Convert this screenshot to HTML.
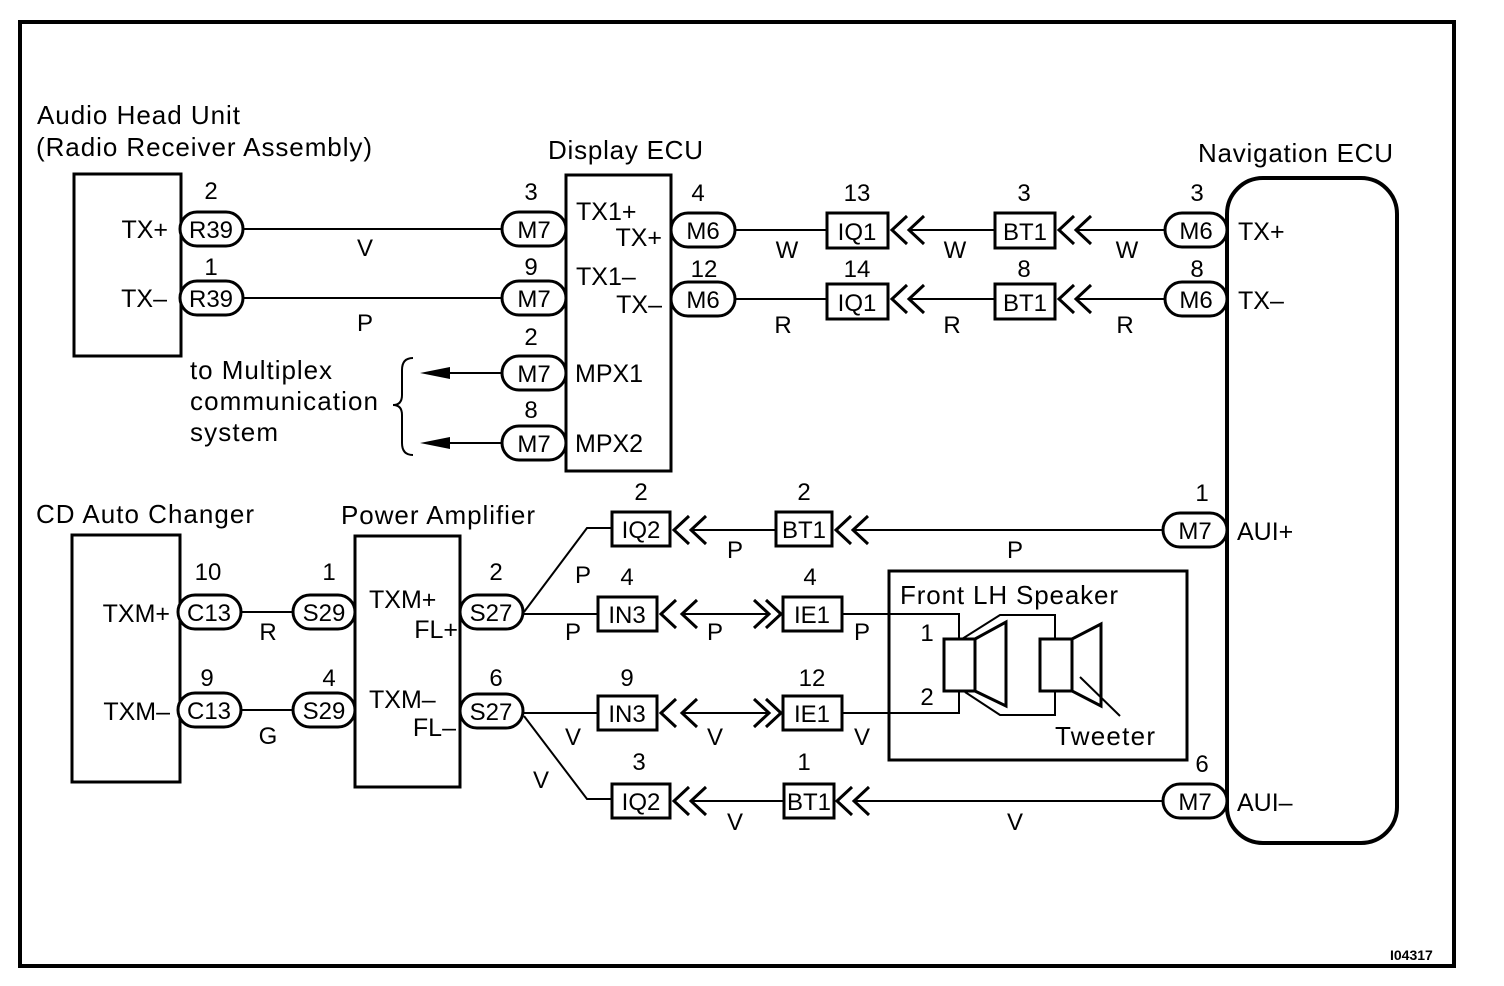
<!DOCTYPE html>
<html><head><meta charset="utf-8"><style>
html,body{margin:0;padding:0;background:#fff;}
svg{display:block;}
text{font-family:"Liberation Sans",Arial,sans-serif;fill:#000;}
</style></head><body>
<svg width="1504" height="986" viewBox="0 0 1504 986" xmlns="http://www.w3.org/2000/svg">
<g fill="none" stroke="#000">
<rect x="20" y="22" width="1434" height="944" stroke-width="4"/>
<rect x="74" y="174" width="107" height="182" stroke-width="3"/>
<rect x="566" y="175" width="105" height="296" stroke-width="3"/>
<rect x="1227" y="178" width="170" height="665" rx="36" stroke-width="4"/>
<rect x="72" y="535" width="108" height="247" stroke-width="3"/>
<rect x="355" y="536" width="105" height="251" stroke-width="3"/>
<rect x="889" y="571" width="298" height="189" stroke-width="3"/>

<g stroke-width="2">
<line x1="243" y1="229" x2="502" y2="229"/>
<line x1="243" y1="298" x2="502" y2="298"/>
<line x1="735" y1="230" x2="827" y2="230"/>
<line x1="735" y1="299" x2="827" y2="299"/>
<line x1="910" y1="230" x2="995" y2="230"/>
<line x1="910" y1="299" x2="995" y2="299"/>
<line x1="1077" y1="230" x2="1165" y2="230"/>
<line x1="1077" y1="299" x2="1165" y2="299"/>
<line x1="450" y1="373" x2="502" y2="373"/>
<line x1="450" y1="443" x2="502" y2="443"/>
<line x1="854" y1="530" x2="1163" y2="530"/>
<line x1="692" y1="530" x2="776" y2="530"/>
<line x1="854" y1="801" x2="1163" y2="801"/>
<line x1="692" y1="801" x2="784" y2="801"/>
<line x1="241" y1="612" x2="293" y2="612"/>
<line x1="241" y1="710" x2="293" y2="710"/>
<polyline points="524,612 587,528 612,528"/>
<polyline points="524,716 587,799 612,799"/>
<line x1="523" y1="614" x2="598" y2="614"/>
<line x1="523" y1="713" x2="598" y2="713"/>
<line x1="682" y1="614" x2="768" y2="614"/>
<line x1="682" y1="713" x2="768" y2="713"/>
<polyline points="842,614 959,614 959,639"/>
<polyline points="842,713 959,713 959,691"/>
</g>
<path d="M413,358 Q402,358 402,370 L402,395 Q402,405 393,405 Q402,405 402,415 L402,443 Q402,455 413,455" stroke-width="2"/>

<g stroke-width="3">
<polyline points="907,216 892,230 907,244"/><polyline points="924,216 909,230 924,244"/>
<polyline points="907,285 892,299 907,313"/><polyline points="924,285 909,299 924,313"/>
<polyline points="1074,216 1059,230 1074,244"/><polyline points="1091,216 1076,230 1091,244"/>
<polyline points="1074,285 1059,299 1074,313"/><polyline points="1091,285 1076,299 1091,313"/>
<polyline points="689,516 674,530 689,544"/><polyline points="706,516 691,530 706,544"/>
<polyline points="851,516 836,530 851,544"/><polyline points="868,516 853,530 868,544"/>
<polyline points="689,787 674,801 689,815"/><polyline points="706,787 691,801 706,815"/>
<polyline points="852,787 837,801 852,815"/><polyline points="869,787 854,801 869,815"/>
<polyline points="676,600 661,614 676,628"/><polyline points="697,600 682,614 697,628"/>
<polyline points="754,600 769,614 754,628"/><polyline points="766,600 781,614 766,628"/>
<polyline points="676,699 661,713 676,727"/><polyline points="697,699 682,713 697,727"/>
<polyline points="754,699 769,713 754,727"/><polyline points="766,699 781,713 766,727"/>
</g>

<g stroke-width="3" fill="#fff">
<rect x="180" y="212" width="63" height="34" rx="17"/>
<rect x="180" y="281" width="63" height="34" rx="17"/>
<rect x="502" y="212" width="64" height="34" rx="17"/>
<rect x="502" y="281" width="64" height="34" rx="17"/>
<rect x="502" y="356" width="64" height="34" rx="17"/>
<rect x="502" y="426" width="64" height="34" rx="17"/>
<rect x="671" y="213" width="64" height="34" rx="17"/>
<rect x="671" y="282" width="64" height="34" rx="17"/>
<rect x="1165" y="213" width="62" height="34" rx="17"/>
<rect x="1165" y="282" width="62" height="34" rx="17"/>
<rect x="1163" y="513" width="64" height="34" rx="17"/>
<rect x="1163" y="784" width="64" height="34" rx="17"/>
<rect x="178" y="595" width="63" height="34" rx="17"/>
<rect x="178" y="693" width="63" height="34" rx="17"/>
<rect x="293" y="595" width="62" height="34" rx="17"/>
<rect x="293" y="693" width="62" height="34" rx="17"/>
<rect x="460" y="595" width="63" height="34" rx="17"/>
<rect x="460" y="694" width="63" height="34" rx="17"/>
<rect x="827" y="213" width="61" height="35"/>
<rect x="827" y="284" width="61" height="35"/>
<rect x="995" y="213" width="60" height="35"/>
<rect x="995" y="284" width="60" height="35"/>
<rect x="612" y="512" width="58" height="34"/>
<rect x="776" y="512" width="56" height="34"/>
<rect x="612" y="784" width="58" height="34"/>
<rect x="784" y="784" width="50" height="34"/>
<rect x="598" y="597" width="59" height="34"/>
<rect x="598" y="696" width="59" height="34"/>
<rect x="783" y="597" width="59" height="34"/>
<rect x="783" y="696" width="59" height="34"/>
</g>

<g stroke-width="3">
<rect x="944" y="639" width="31" height="52"/>
<polygon points="975,639 1006,622 1006,706 975,691"/>
<rect x="1040" y="639" width="32" height="52"/>
<polygon points="1072,639 1101,624 1101,706 1072,691"/>
</g>
<g stroke-width="2">
<polyline points="962,639 1000,615 1055,615 1055,639"/>
<polyline points="965,692 1000,715 1055,715 1055,691"/>
<line x1="1080" y1="677" x2="1120" y2="716"/>
</g>
</g>
<polygon points="420,373 450,367 450,379" fill="#000"/>
<polygon points="420,443 450,437 450,449" fill="#000"/>

<g font-size="26">
<text x="37" y="124" textLength="203">Audio Head Unit</text>
<text x="36" y="156" textLength="336">(Radio Receiver Assembly)</text>
<text x="548" y="159" textLength="155">Display ECU</text>
<text x="1198" y="162" textLength="195">Navigation ECU</text>
<text x="36" y="523" textLength="218">CD Auto Changer</text>
<text x="341" y="524" textLength="194">Power Amplifier</text>
<text x="900" y="604" textLength="218">Front LH Speaker</text>
<text x="1055" y="745" textLength="100">Tweeter</text>
<text x="190" y="379" textLength="142">to Multiplex</text>
<text x="190" y="410" textLength="188">communication</text>
<text x="190" y="441" textLength="88">system</text>
</g>
<g font-size="25">
<g text-anchor="end">
<text x="168" y="238">TX+</text><text x="167" y="307">TX–</text>
<text x="662" y="246">TX+</text><text x="662" y="313">TX–</text>
<text x="170" y="622">TXM+</text><text x="170" y="720">TXM–</text>
<text x="458" y="638">FL+</text><text x="456" y="736">FL–</text>
</g>
<text x="576" y="220">TX1+</text>
<text x="576" y="285">TX1–</text>
<text x="575" y="382">MPX1</text><text x="575" y="452">MPX2</text>
<text x="1238" y="240">TX+</text><text x="1238" y="309">TX–</text>
<text x="1237" y="540">AUI+</text><text x="1237" y="811">AUI–</text>
<text x="369" y="608">TXM+</text>
<text x="369" y="708">TXM–</text>
</g>
<g font-size="24" text-anchor="middle">
<text x="211" y="238">R39</text><text x="211" y="307">R39</text>
<text x="534" y="238">M7</text><text x="534" y="307">M7</text>
<text x="534" y="382">M7</text><text x="534" y="452">M7</text>
<text x="703" y="239">M6</text><text x="703" y="308">M6</text>
<text x="1196" y="239">M6</text><text x="1196" y="308">M6</text>
<text x="1195" y="539">M7</text><text x="1195" y="810">M7</text>
<text x="209" y="621">C13</text><text x="209" y="719">C13</text>
<text x="324" y="621">S29</text><text x="324" y="719">S29</text>
<text x="491" y="621">S27</text><text x="491" y="720">S27</text>
<text x="857" y="240">IQ1</text><text x="857" y="311">IQ1</text>
<text x="1025" y="240">BT1</text><text x="1025" y="311">BT1</text>
<text x="641" y="538">IQ2</text><text x="804" y="538">BT1</text>
<text x="641" y="810">IQ2</text><text x="809" y="810">BT1</text>
<text x="627" y="623">IN3</text><text x="627" y="722">IN3</text>
<text x="812" y="623">IE1</text><text x="812" y="722">IE1</text>
<text x="211" y="199">2</text><text x="211" y="275">1</text>
<text x="531" y="200">3</text><text x="531" y="275">9</text>
<text x="531" y="345">2</text><text x="531" y="418">8</text>
<text x="698" y="201">4</text><text x="704" y="277">12</text>
<text x="857" y="201">13</text><text x="857" y="277">14</text>
<text x="1024" y="201">3</text><text x="1024" y="277">8</text>
<text x="1197" y="201">3</text><text x="1197" y="277">8</text>
<text x="641" y="500">2</text><text x="804" y="500">2</text>
<text x="1202" y="501">1</text><text x="1202" y="772">6</text>
<text x="208" y="580">10</text><text x="207" y="686">9</text>
<text x="329" y="580">1</text><text x="329" y="686">4</text>
<text x="496" y="580">2</text><text x="496" y="686">6</text>
<text x="627" y="585">4</text><text x="627" y="686">9</text>
<text x="810" y="585">4</text><text x="812" y="686">12</text>
<text x="639" y="770">3</text><text x="804" y="770">1</text>
<text x="927" y="641">1</text><text x="927" y="705">2</text>
<text x="365" y="256">V</text><text x="365" y="331">P</text>
<text x="787" y="258">W</text><text x="955" y="258">W</text><text x="1127" y="258">W</text>
<text x="783" y="333">R</text><text x="952" y="333">R</text><text x="1125" y="333">R</text>
<text x="735" y="558">P</text><text x="1015" y="558">P</text>
<text x="583" y="583">P</text><text x="573" y="640">P</text>
<text x="715" y="640">P</text><text x="862" y="640">P</text>
<text x="573" y="745">V</text><text x="715" y="745">V</text><text x="862" y="745">V</text>
<text x="541" y="788">V</text>
<text x="735" y="830">V</text><text x="1015" y="830">V</text>
<text x="268" y="640">R</text><text x="268" y="744">G</text>
</g>
<text x="1390" y="960" font-size="14" font-weight="bold">I04317</text>
</svg>
</body></html>
